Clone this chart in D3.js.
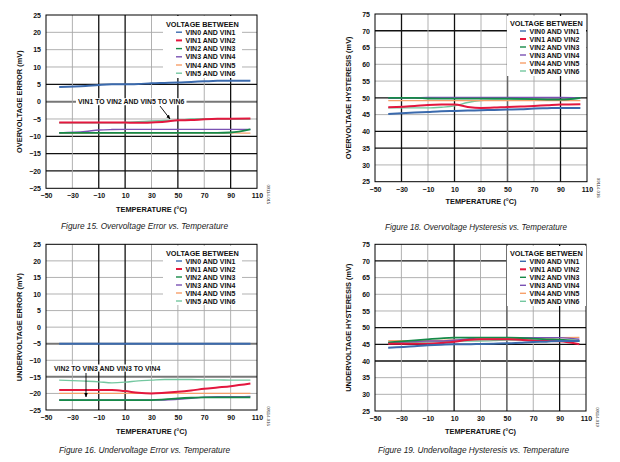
<!DOCTYPE html>
<html><head><meta charset="utf-8">
<script src="https://cdn.jsdelivr.net/npm/d3@7"></script>
<style>
html,body{margin:0;padding:0;background:#fff;}
svg{display:block;}
text{font-family:"Liberation Sans",Arial,sans-serif;}
</style></head>
<body>
<svg id="c" width="620" height="462"></svg>
<script>
// ---- data ----
const temps = [-40, -20, -10, 0, 10, 20, 30, 40, 50, 60, 70, 80, 90, 105];
const seriesNames = ["VIN0 AND VIN1","VIN1 AND VIN2","VIN2 AND VIN3","VIN3 AND VIN4","VIN4 AND VIN5","VIN5 AND VIN6"];
const xTicks = [-50,-30,-10,10,30,50,70,90,110];
const errTicks = [25,20,15,10,5,0,-5,-10,-15,-20,-25];
const hysTicks = [75,70,65,60,55,50,45,40,35,30,25];

// Figure 15: overvoltage error (mV)
const ovErr0 = [4.2,4.5,4.8,5.0,5.0,5.1,5.3,5.4,5.5,5.7,5.85,6.0,6.05,6.05];
const ovErr1 = [-6.0,-6.0,-6.0,-6.0,-6.05,-6.1,-6.0,-5.8,-5.4,-5.3,-5.1,-4.95,-4.9,-4.85];
const ovErr2 = [-9,-9,-9,-9,-9,-9,-9,-9,-9,-9,-9,-9,-8.9,-8.0];
const ovErr3 = [-9.0,-8.6,-8.2,-8.05,-8,-8,-8,-8,-8,-8,-8,-8,-8,-8];
const ovErr4 = [-9.1,-9.05,-9,-9,-9,-9,-9,-9,-9,-9,-9,-9,-9,-9.1];
const ovErr5 = [-6.1,-6.1,-6.1,-6.1,-6.0,-5.8,-5.6,-5.45,-5.4,-5.0,-4.95,-5.0,-5.0,-5.0];

// Figure 18: overvoltage hysteresis (mV)
const ovHys0 = [45.2,45.6,45.8,46.0,46.1,46.2,46.3,46.4,46.5,46.6,46.8,46.9,47.0,47.0];
const ovHys1 = [47.2,47.6,47.9,48.0,48.0,47.3,47.0,47.1,47.3,47.4,47.6,47.8,48.0,48.1];
const ovHys2 = [50,50,49.8,49.75,49.75,49.75,49.75,49.75,49.75,49.7,49.6,49.5,49.45,50];
const ovHys3 = [49.9,50,50.1,50.15,50.15,50.15,50.15,50.15,50.15,50.15,50.15,50.1,50.1,50];
const ovHys4 = [49.2,49.2,49.2,49.2,49.2,49.2,49.2,49.2,49.2,49.2,49.2,49.2,49.2,49.2];
const ovHys5 = [47.0,47.0,47.0,47.2,47.6,48.6,49.2,49.4,49.4,49.5,49.5,49.5,49.4,49.9];

// Figure 16: undervoltage error (mV)
const uvErr0 = [-5,-5,-5,-5,-5,-5,-5,-5,-5,-5,-5,-5,-5,-5];
const uvErr1 = [-19,-19,-19,-19,-19.3,-19.8,-20,-19.8,-19.5,-19.1,-18.6,-18.2,-17.8,-17.0];
const uvErr2 = [-22,-22,-22,-22,-22,-22,-22,-21.8,-21.5,-21.3,-21.2,-21.2,-21.2,-21.2];
const uvErr3 = [-22,-22,-22,-22,-22,-22,-22,-22,-21.8,-21.5,-21.1,-21.0,-21.0,-20.9];
const uvErr4 = [-20,-20,-20,-20,-20,-20,-20,-20,-20,-20,-20,-20,-20,-20];
const uvErr5 = [-16.0,-16.3,-16.5,-16.8,-16.6,-16.2,-16.0,-15.8,-15.8,-15.8,-15.9,-15.9,-16,-16];

// Figure 19: undervoltage hysteresis (mV)
const uvHys0 = [44.0,44.4,44.7,44.9,45,45,45.1,45.2,45.3,45.5,45.7,45.8,46,46];
const uvHys1 = [45.2,45.2,45.2,45.4,45.8,46.3,46.5,46.5,46.5,46.4,46.1,46,45.9,45.0];
const uvHys2 = [45.6,46.2,46.5,46.8,47,47,47,47,47,46.9,46.7,46.5,46.4,46.0];
const uvHys3 = [45.5,45.8,46,46,46.2,46.6,47,47,47,47,47,47,47,46.5];
const uvHys4 = [46.1,46.1,46.1,46.2,46.3,46.4,46.5,46.6,46.6,46.7,46.8,46.9,47,47.1];
const uvHys5 = [45.4,45.6,45.7,45.8,45.9,46,46,46.1,46.3,46.3,46.3,46.2,46.1,46.0];

// ---- styles ----
const colors = ["#3b6aad","#e3173e","#168a48","#7a52b3","#f7a06a","#74c7a0"];
const widths = [2,2,1.8,1.4,1.3,1.4];

const panels = [
  {box:[46,257,15,188.3], dom:[-25,25], ticks:errTicks, data:[ovErr0,ovErr1,ovErr2,ovErr3,ovErr4,ovErr5],
   ylabel:"OVERVOLTAGE ERROR (mV)", caption:"Figure 15. Overvoltage Error vs. Temperature", id:"09114-015",
   cap:{x0:61,x1:228,y:229,serif:true}, xl:212,
   darkH:[5,-10,-15,-20], greyH:[0], darkV:[-10,10,50,90], greyV:[],
   legend:{x:166,y:24,dy:8.2, box:[163,16,79,62]},
   note:{text:"VIN1 TO VIN2 AND VIN5 TO VIN6", x:78, y:101.7, arrow:[[160,106],[170,119]]}},
  {box:[375,587,14,181.7], dom:[25,75], ticks:hysTicks, data:[ovHys0,ovHys1,ovHys2,ovHys3,ovHys4,ovHys5],
   ylabel:"OVERVOLTAGE HYSTERESIS (mV)", caption:"Figure 18. Overvoltage Hysteresis vs. Temperature", id:"09114-018",
   cap:{x0:385,x1:567,y:230,serif:true}, xl:204,
   darkH:[70,50,40,35], greyH:[], darkV:[-30,10,90], greyV:[50],
   legend:{x:510,y:23,dy:8.0, box:[507,16,79,60]}},
  {box:[46,257,244.3,410], dom:[-25,25], ticks:errTicks, data:[uvErr0,uvErr1,uvErr2,uvErr3,uvErr4,uvErr5],
   ylabel:"UNDERVOLTAGE ERROR (mV)", caption:"Figure 16. Undervoltage Error vs. Temperature", id:"09114-016",
   cap:{x0:59,x1:230,y:453,serif:false}, xl:434,
   darkH:[], greyH:[-5,-15], darkV:[-10,10], greyV:[],
   legend:{x:166,y:253,dy:8.0, box:[163,246,79,59]},
   note:{text:"VIN2 TO VIN3 AND VIN3 TO VIN4", x:54, y:368, arrow:[[86,373],[86,397]]}},
  {box:[375,586,244.3,411], dom:[25,75], ticks:hysTicks, data:[uvHys0,uvHys1,uvHys2,uvHys3,uvHys4,uvHys5],
   ylabel:"UNDERVOLTAGE HYSTERESIS (mV)", caption:"Figure 19. Undervoltage Hysteresis vs. Temperature", id:"09114-019",
   cap:{x0:378,x1:569,y:453,serif:false}, xl:434,
   darkH:[70,50,45,40], greyH:[], darkV:[10,90], greyV:[50],
   legend:{x:510,y:253.3,dy:8.0, box:[507,246,79,60]}}
];

const svg = d3.select("#c");
const defs = svg.append("defs");
defs.append("marker").attr("id","ah").attr("viewBox","0 0 10 10").attr("refX",9).attr("refY",5)
  .attr("markerWidth",5).attr("markerHeight",5).attr("orient","auto")
  .append("path").attr("d","M0,1L10,5L0,9z").attr("fill","#000");

panels.forEach(p => {
  const [l,r,t,b] = p.box;
  const x = d3.scaleLinear().domain([-50,110]).range([l,r]);
  const y = d3.scaleLinear().domain(p.dom).range([b,t]);
  const g = svg.append("g");

  // gridlines
  p.ticks.slice(1,-1).forEach(v => {
    const dark = p.darkH.includes(v), grey = p.greyH.includes(v);
    g.append("line").attr("x1",l).attr("x2",r).attr("y1",y(v)).attr("y2",y(v))
      .attr("stroke", dark ? "#111" : grey ? "#777" : "#a8a8a8")
      .attr("stroke-width", dark ? 1.3 : grey ? 2 : 0.9);
  });
  xTicks.slice(1,-1).forEach(v => {
    const dark = p.darkV.includes(v), grey = p.greyV.includes(v);
    g.append("line").attr("y1",t).attr("y2",b).attr("x1",x(v)).attr("x2",x(v))
      .attr("stroke", dark ? "#111" : grey ? "#666" : "#a8a8a8")
      .attr("stroke-width", dark ? 1.3 : grey ? 1.6 : 0.9);
  });

  // axes (tick labels only, frame drawn separately)
  const fmt = d => d < 0 ? "\u2212" + Math.abs(d) : d;
  const ax = g.append("g").attr("transform",`translate(0,${b})`)
    .call(d3.axisBottom(x).tickValues(xTicks).tickSize(0).tickPadding(5).tickFormat(fmt));
  const ay = g.append("g").attr("transform",`translate(${l},0)`)
    .call(d3.axisLeft(y).tickValues(p.ticks).tickSize(0).tickPadding(5).tickFormat(fmt));
  [ax,ay].forEach(a => {
    a.select(".domain").remove();
    a.selectAll("text").attr("font-size",7).attr("font-weight","bold")
      .attr("font-family","'Liberation Sans',Arial,sans-serif").attr("fill","#111");
  });

  // series lines (drawn last-to-first so VIN0 sits on top)
  const line = d3.line().x((d,i)=>x(temps[i])).y(d=>y(d)).curve(d3.curveMonotoneX);
  for (let k = p.data.length-1; k >= 0; k--) {
    g.append("path").datum(p.data[k]).attr("d",line).attr("fill","none")
      .attr("stroke",colors[k]).attr("stroke-width",widths[k]).attr("stroke-linejoin","round");
  }

  // frame
  g.append("rect").attr("x",l).attr("y",t).attr("width",r-l).attr("height",b-t)
    .attr("fill","none").attr("stroke","#000").attr("stroke-width",1);

  // legend
  const L = p.legend;
  g.append("rect").attr("x",L.box[0]).attr("y",L.box[1]).attr("width",L.box[2]).attr("height",L.box[3]).attr("fill","#fff");
  g.append("text").attr("x",L.x).attr("y",L.y+2.5).text("VOLTAGE BETWEEN")
    .attr("font-size",7.3).attr("font-weight","bold").attr("fill","#111");
  seriesNames.forEach((n,k) => {
    const yy = L.y + L.dy*(k+1);
    g.append("line").attr("x1",L.x+10).attr("x2",L.x+16).attr("y1",yy).attr("y2",yy)
      .attr("stroke",colors[k]).attr("stroke-width",k===1?2:1.4);
    g.append("text").attr("x",L.x+19.5).attr("y",yy+2.5).text(n)
      .attr("font-size",7).attr("font-weight","bold").attr("fill","#111");
  });

  // annotation
  if (p.note) {
    const N = p.note;
    const tx = g.append("text").attr("x",N.x).attr("y",N.y+2.5).text(N.text)
      .attr("font-size",6.9).attr("font-weight","bold").attr("fill","#111");
    const bb = tx.node().getBBox();
    g.insert("rect", () => tx.node()).attr("x",bb.x-2).attr("y",bb.y).attr("width",bb.width+4).attr("height",bb.height).attr("fill","#fff");
    g.append("line").attr("x1",N.arrow[0][0]).attr("y1",N.arrow[0][1]).attr("x2",N.arrow[1][0]).attr("y2",N.arrow[1][1])
      .attr("stroke","#000").attr("stroke-width",0.9).attr("marker-end","url(#ah)");
  }

  // axis titles
  g.append("text").attr("x",(l+r)/2).attr("y",p.xl).attr("text-anchor","middle").text("TEMPERATURE (°C)")
    .attr("font-size",7.4).attr("font-weight","bold").attr("fill","#111");
  g.append("text").attr("transform",`translate(${l-24},${(t+b)/2}) rotate(-90)`).attr("text-anchor","middle")
    .text(p.ylabel).attr("font-size",7.4).attr("font-weight","bold").attr("fill","#111");

  // figure id and caption
  g.append("text").attr("transform",`translate(${r+10},${b+6}) rotate(90)`).attr("text-anchor","middle")
    .text(p.id).attr("font-size",4.2).attr("fill","#333");
  const C = p.cap;
  g.append("text").attr("x",C.x0).attr("y",C.y).text(p.caption)
    .attr("font-size",C.serif ? 9 : 8.3).attr("font-style","italic").attr("fill","#222")
    .attr("font-family", C.serif ? "'Liberation Serif','DejaVu Serif',serif" : "'Liberation Sans',Arial,sans-serif")
    .attr("textLength",C.x1-C.x0).attr("lengthAdjust","spacingAndGlyphs");
});
</script>
</body></html>
